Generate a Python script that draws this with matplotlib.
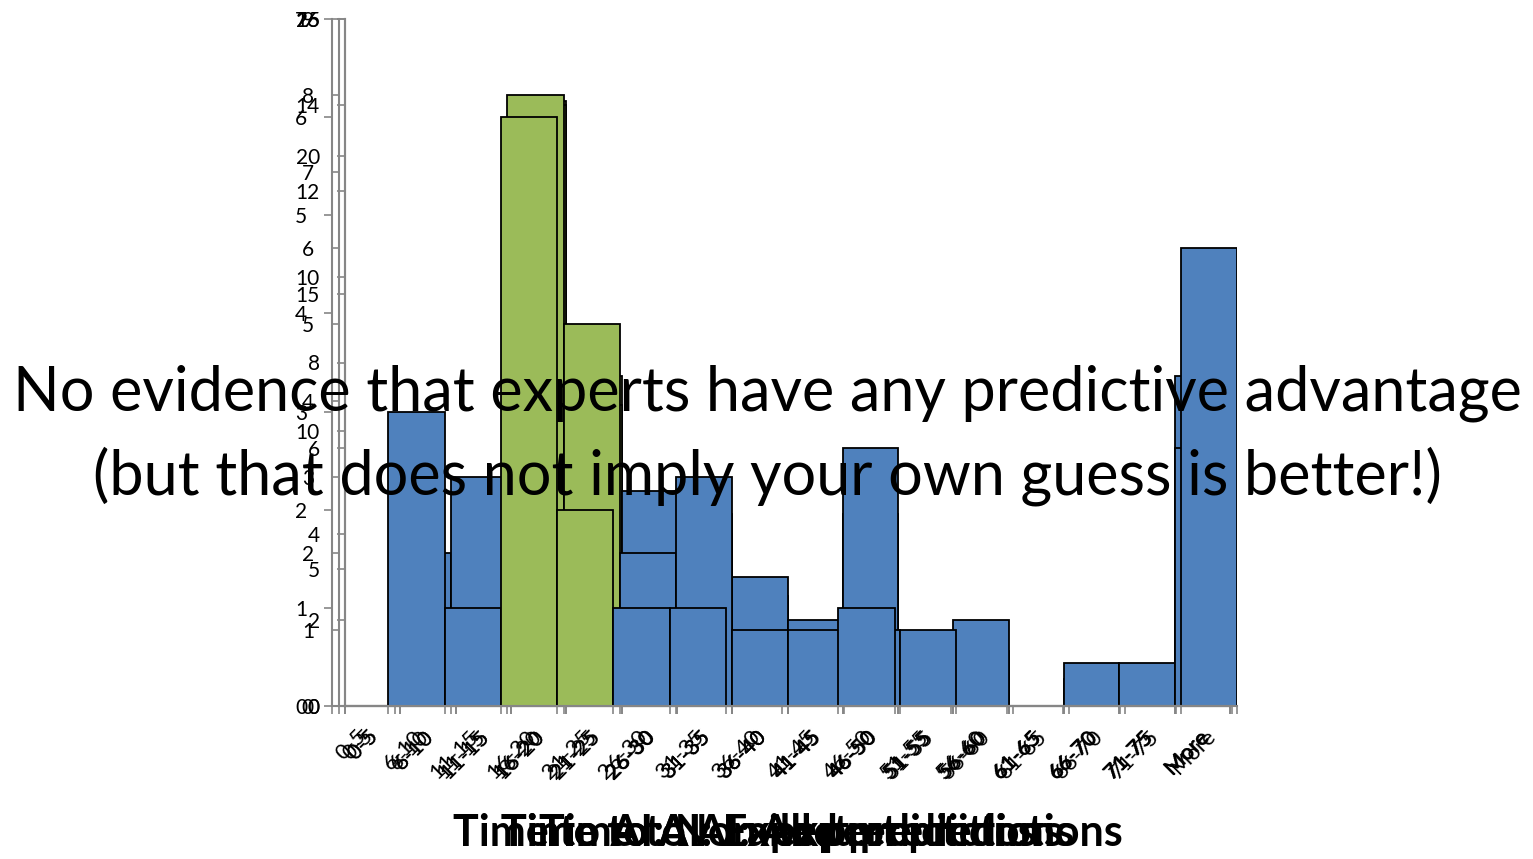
import numpy as np
import matplotlib.pyplot as plt
from matplotlib.transforms import ScaledTranslation

plt.rcParams['font.family'] = ['Lato', 'DejaVu Sans']

bins = ['0-5', '6-10', '11-15', '16-20', '21-25', '26-30', '31-35', '36-40',
        '41-45', '46-50', '51-55', '56-60', '61-65', '66-70', '71-75', 'More']
green_bins = ['16-20', '21-25']

# counts per bin for each histogram
all_counts = [0, 4, 7, 22, 12, 7, 7, 4, 3, 7, 2, 2, 0, 1, 1, 12]
nonexpert_counts = [0, 2, 4, 14, 7, 5, 4, 3, 2, 6, 1, 2, 0, 1, 1, 6]
expert_counts = [0, 2, 3, 8, 5, 2, 3, 1, 1, 1, 1, 0, 0, 0, 0, 6]
failed_counts = [0, 3, 1, 6, 2, 1, 1, 0, 0, 1, 0, 0, 0, 0, 0, 0]

titles = ['Time to AI: All predictions', 'Time to AI: Non-expert predictions',
          'Time to AI: Expert predictions', 'Time to AI: Failed predictions']

blue = '#4F81BD'
green = '#9BBB59'
axis_grey = '#868686'

W, H = 1533, 859
fig = plt.figure(figsize=(W / 100, H / 100), dpi=100)


def make_panel(x0, x1, counts, ymax, ystep, title, z):
    # pixel box of the plot area: baseline at 706, top at 19
    ax = fig.add_axes([x0 / W, (H - 706) / H, (x1 - x0) / W, 687 / H], zorder=z)
    ax.patch.set_visible(False)
    pos = [i for i, c in enumerate(counts) if c > 0]
    hts = [counts[i] for i in pos]
    cols = [green if bins[i] in green_bins else blue for i in pos]
    ax.bar(pos, hts, width=1.0, color=cols, edgecolor='black', linewidth=1.3)
    ax.set_xlim(-0.5, len(bins) - 0.5)
    ax.set_ylim(0, ymax)
    ax.set_yticks(np.arange(0, ymax + 1, ystep))
    ax.set_xticks(np.arange(len(bins) + 1) - 0.5)
    ax.set_xticklabels([])
    for s in ['top', 'right']:
        ax.spines[s].set_visible(False)
    for s in ['left', 'bottom']:
        ax.spines[s].set_color(axis_grey)
        ax.spines[s].set_linewidth(1.5)
    ax.tick_params(direction='out', length=6, width=1.2, color=axis_grey,
                   labelsize=15, pad=12)
    off = ax.get_xaxis_transform() + ScaledTranslation(0.10, -0.20, fig.dpi_scale_trans)
    for i, b in enumerate(bins):
        ax.text(i, 0, b, transform=off, rotation=45, ha='right', va='top',
                fontsize=16, rotation_mode='default')
    ax.text(0.5, -0.185, title, transform=ax.transAxes, ha='center', va='center',
            fontsize=31, fontweight='bold')
    return ax


make_panel(345, 1230, all_counts, 25, 5, titles[0], 1)
make_panel(345, 1230, nonexpert_counts, 16, 2, titles[1], 2)
make_panel(339, 1237, expert_counts, 9, 1, titles[2], 3)
make_panel(332, 1232, failed_counts, 7, 1, titles[3], 4)

fig.text(767 / W, (H - 410) / H, 'No evidence that experts have any predictive advantage',
         ha='center', va='baseline', fontsize=44, zorder=10)
fig.text(767 / W, (H - 495) / H, '(but that does not imply your own guess is better!)',
         ha='center', va='baseline', fontsize=44, zorder=10)

fig.savefig('out.png', dpi=100)
